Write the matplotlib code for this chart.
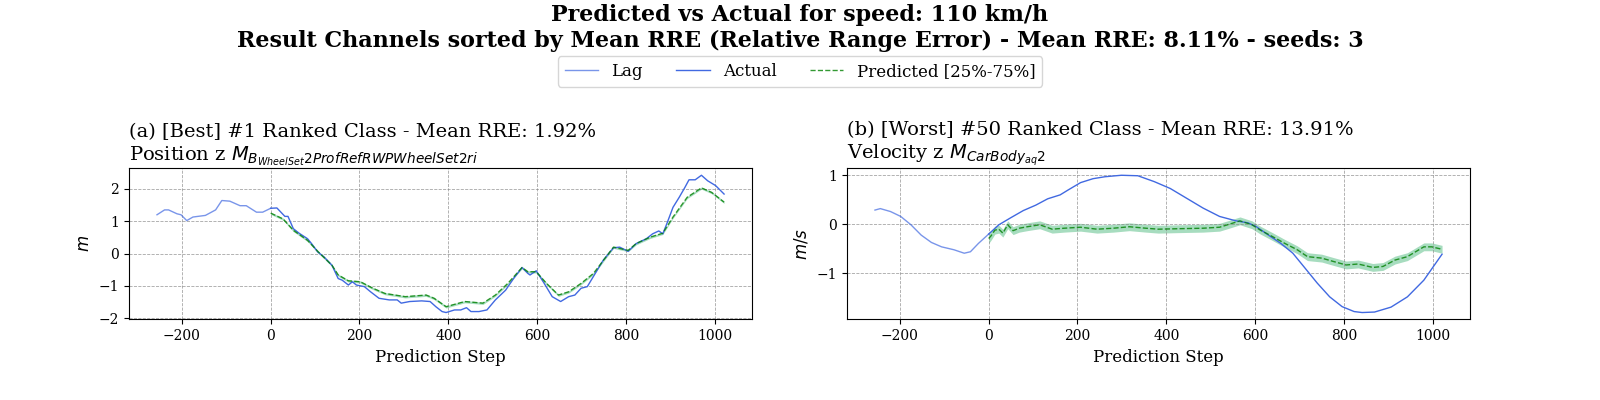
import numpy as np
import matplotlib
matplotlib.use('Agg')
import matplotlib.pyplot as plt

plt.rcParams['font.family'] = 'DejaVu Serif'
plt.rcParams['mathtext.fontset'] = 'dejavusans'

# (a) best channel: position z
lag_a_x = [-256, -239, -230, -211, -202, -189, -175, -147, -124, -110, -92, -69, -55, -32, -18, 0]
lag_a_y = [1.20, 1.35, 1.35, 1.23, 1.20, 1.02, 1.13, 1.18, 1.35, 1.64, 1.62, 1.48, 1.48, 1.28, 1.28, 1.40]

act_a_x = [0, 14, 23, 32, 39, 51, 64, 83, 92, 106, 120, 138, 152, 161, 175, 184, 193, 211, 225, 244,
           267, 285, 294, 313, 340, 359, 372, 386, 395, 414, 428, 441, 451, 469, 487, 506, 529, 547,
           566, 579, 584, 598, 616, 634, 653, 671, 685, 699, 713, 731, 749, 772, 786, 805, 823, 846,
           860, 874, 883, 892, 906, 920, 933, 942, 956, 970, 984, 1002, 1021]
act_a_y = [1.40, 1.41, 1.28, 1.15, 1.15, 0.77, 0.63, 0.46, 0.31, 0.05, -0.10, -0.36, -0.77, -0.82,
           -0.97, -0.87, -0.97, -1.02, -1.18, -1.38, -1.43, -1.43, -1.53, -1.48, -1.46, -1.48, -1.64,
           -1.79, -1.82, -1.74, -1.74, -1.67, -1.79, -1.79, -1.74, -1.43, -1.13, -0.77, -0.43, -0.61,
           -0.66, -0.53, -0.92, -1.33, -1.48, -1.33, -1.28, -1.07, -1.02, -0.61, -0.20, 0.18, 0.20,
           0.07, 0.31, 0.46, 0.61, 0.70, 0.61, 0.92, 1.43, 1.74, 2.05, 2.28, 2.28, 2.42, 2.25, 2.10, 1.84]

pred_a_x = [0, 28, 51, 83, 106, 138, 152, 175, 202, 230, 257, 303, 350, 368, 395, 437, 478, 506, 534,
            566, 579, 598, 621, 648, 671, 699, 727, 772, 805, 823, 855, 883, 906, 938, 970, 993, 1021]
pred_a_y = [1.25, 1.07, 0.72, 0.41, 0.07, -0.36, -0.66, -0.84, -0.87, -1.07, -1.23, -1.33, -1.28,
            -1.38, -1.64, -1.48, -1.53, -1.28, -0.92, -0.43, -0.56, -0.56, -0.92, -1.28, -1.18, -0.92,
            -0.61, 0.20, 0.10, 0.31, 0.51, 0.63, 1.13, 1.74, 2.03, 1.89, 1.59]
pred_a_lo = [1.21, 1.03, 0.68, 0.37, 0.03, -0.40, -0.70, -0.88, -0.91, -1.11, -1.27, -1.37, -1.32,
             -1.42, -1.68, -1.52, -1.57, -1.32, -0.96, -0.47, -0.60, -0.60, -0.96, -1.32, -1.22, -0.96,
             -0.65, 0.16, 0.06, 0.27, 0.47, 0.59, 1.09, 1.70, 1.99, 1.85, 1.55]
pred_a_hi = [1.28, 1.10, 0.75, 0.44, 0.10, -0.33, -0.63, -0.81, -0.84, -1.04, -1.20, -1.30, -1.25,
             -1.35, -1.61, -1.45, -1.50, -1.25, -0.89, -0.40, -0.53, -0.53, -0.89, -1.25, -1.15, -0.89,
             -0.58, 0.23, 0.13, 0.34, 0.54, 0.66, 1.16, 1.77, 2.06, 1.92, 1.62]

# (b) worst channel: velocity z
lag_b_x = [-256, -244, -221, -198, -175, -152, -129, -106, -78, -55, -41, -23, 0]
lag_b_y = [0.29, 0.32, 0.26, 0.16, -0.01, -0.22, -0.37, -0.46, -0.52, -0.59, -0.56, -0.39, -0.20]

act_b_x = [0, 23, 51, 78, 106, 133, 161, 179, 207, 235, 262, 299, 336, 373, 409, 446, 483, 520, 557,
           584, 603, 630, 658, 685, 713, 740, 768, 796, 823, 841, 869, 906, 943, 980, 1021]
act_b_y = [-0.20, -0.01, 0.14, 0.28, 0.39, 0.52, 0.60, 0.70, 0.85, 0.93, 0.97, 1.00, 0.99, 0.87, 0.73,
           0.53, 0.33, 0.16, 0.07, 0.03, -0.05, -0.22, -0.39, -0.59, -0.90, -1.20, -1.48, -1.68, -1.78,
           -1.80, -1.79, -1.69, -1.48, -1.14, -0.61]

pred_b_x = [0, 5, 14, 23, 32, 43, 55, 69, 87, 115, 143, 170, 207, 244, 281, 317, 354, 382, 428, 483,
            520, 538, 566, 593, 612, 639, 667, 695, 718, 750, 777, 805, 832, 865, 888, 915, 943, 980,
            998, 1021]
pred_b_y = [-0.29, -0.24, -0.12, -0.10, -0.18, -0.01, -0.13, -0.08, -0.05, -0.01, -0.10, -0.08, -0.06,
            -0.10, -0.08, -0.05, -0.08, -0.10, -0.09, -0.08, -0.06, -0.01, 0.07, -0.01, -0.12, -0.25,
            -0.39, -0.52, -0.66, -0.69, -0.76, -0.83, -0.81, -0.88, -0.86, -0.73, -0.66, -0.46, -0.46,
            -0.51]
pred_b_lo = [-0.39, -0.33, -0.20, -0.18, -0.26, -0.09, -0.21, -0.16, -0.13, -0.09, -0.18, -0.16, -0.14,
             -0.18, -0.16, -0.13, -0.16, -0.18, -0.17, -0.16, -0.14, -0.09, -0.01, -0.09, -0.20, -0.33,
             -0.47, -0.60, -0.74, -0.77, -0.84, -0.91, -0.89, -0.96, -0.94, -0.81, -0.74, -0.54, -0.54,
             -0.59]
pred_b_hi = [-0.20, -0.15, -0.04, -0.02, -0.10, 0.07, -0.05, 0.00, 0.03, 0.07, -0.02, 0.00, 0.02,
             -0.02, 0.00, 0.03, 0.00, -0.02, -0.01, 0.00, 0.02, 0.07, 0.15, 0.07, -0.04, -0.17,
             -0.31, -0.44, -0.58, -0.61, -0.68, -0.75, -0.73, -0.80, -0.78, -0.65, -0.58, -0.38, -0.38,
             -0.43]

titles = ["(a) [Best] #1 Ranked Class - Mean RRE: 1.92%\nPosition z $M_{B_{WheelSet}2ProfRefRWPWheelSet2ri}$",
          "(b) [Worst] #50 Ranked Class - Mean RRE: 13.91%\nVelocity z $M_{CarBody_{aq}2}$"]
ylabels = ["$m$", "$m/s$"]

fig, axes = plt.subplots(1, 2, figsize=(16, 4), dpi=100)
fig.subplots_adjust(left=0.0804, right=0.919, bottom=0.2015, top=0.579, wspace=0.151)

data = [(lag_a_x, lag_a_y, act_a_x, act_a_y, pred_a_x, pred_a_y, pred_a_lo, pred_a_hi),
        (lag_b_x, lag_b_y, act_b_x, act_b_y, pred_b_x, pred_b_y, pred_b_lo, pred_b_hi)]

for i, ax in enumerate(axes):
    lx, ly, ax_x, ax_y, px, py, plo, phi = data[i]
    ax.plot(lx, ly, color='royalblue', alpha=0.7, lw=1, label='Lag')
    ax.plot(ax_x, ax_y, color='royalblue', lw=1, label='Actual')
    ax.plot(px, py, color='green', ls='--', lw=1, alpha=0.8, label='Predicted [25%-75%]')
    ax.fill_between(px, plo, phi, color='mediumseagreen', alpha=0.45, lw=0)
    ax.set_title(titles[i], loc='left', fontsize=14)
    ax.set_xlabel('Prediction Step', fontsize=12)
    ax.set_ylabel(ylabels[i], fontsize=12)
    ax.grid(True, ls='--', lw=0.6, color='gray', alpha=0.7)
    ax.set_xticks([-200, 0, 200, 400, 600, 800, 1000])

handles, labels = axes[0].get_legend_handles_labels()
fig.legend(handles, labels, loc='upper center', bbox_to_anchor=(0.5, 0.88), ncol=3, fontsize=12)
fig.suptitle('Predicted vs Actual for speed: 110 km/h\n'
             'Result Channels sorted by Mean RRE (Relative Range Error) - Mean RRE: 8.11% - seeds: 3',
             fontsize=16, fontweight='bold', y=0.99)

fig.savefig('out.png', dpi=100)
